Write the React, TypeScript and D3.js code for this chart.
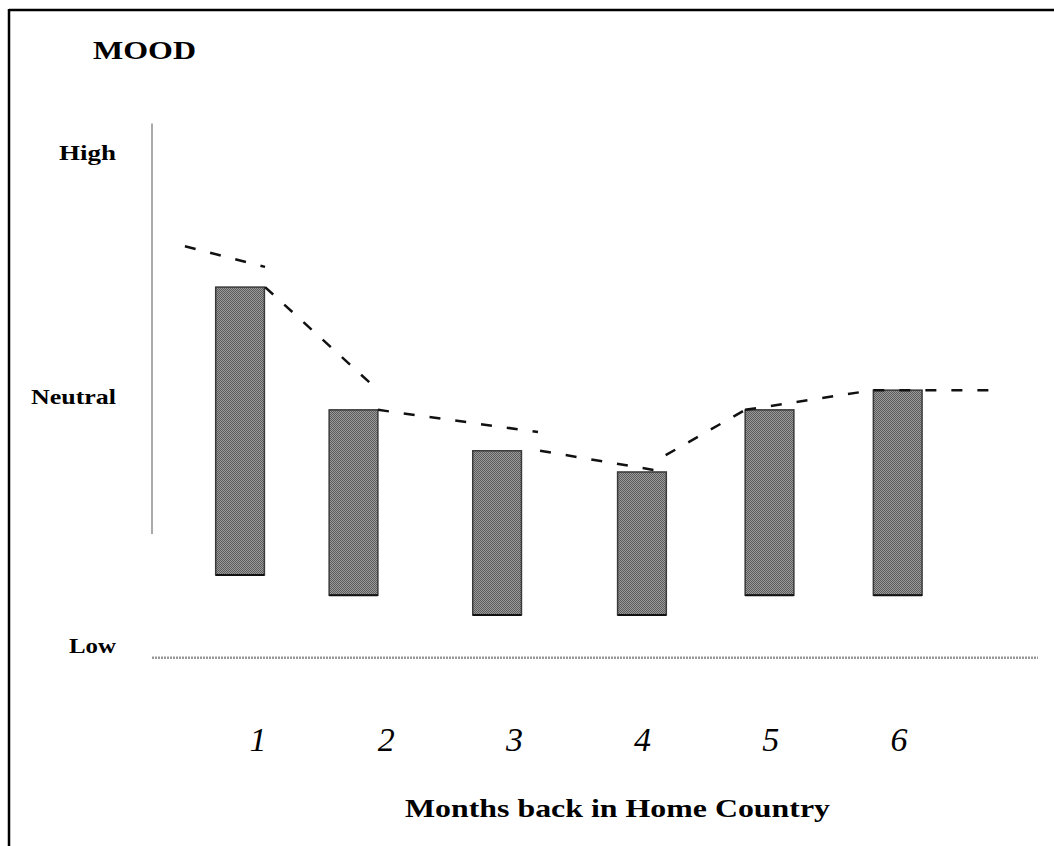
import React from "react";
import * as d3 from "d3";

// ---- data ----
const months = ["1", "2", "3", "4", "5", "6"];
const monthPos = [1, 2, 3, 4, 5, 6];
// bar centers (month units), bar low/high (mood units: Low=0, High=100)
const barCenter = [0.86, 1.745, 2.865, 3.995, 4.99, 5.99];
const barLow = [14.4, 10.3, 6.3, 6.3, 10.3, 10.3];
const barHigh = [72.8, 47.9, 39.6, 35.3, 47.9, 51.9];
// dashed trend segments: [m0, v0, m1, v1]
const trendSegments: [number, number, number, number][] = [
  [0.43, 81.1, 1.055, 76.9],
  [1.055, 72.8, 1.936, 51.9],
  [1.936, 47.9, 3.184, 43.4],
  [3.2, 39.6, 4.18, 35.3],
  [4.18, 38.7, 4.8, 47.9],
  [4.8, 47.9, 5.8, 51.9],
  [5.8, 51.9, 6.71, 51.9],
];
const moodLabels = ["High", "Neutral", "Low"];
const moodValues = [100, 50.6, 0];
const moodLabelWidths = [57, 85, 47];

const W = 1054;
const H = 846;

export default function App() {
  const x = d3.scaleLinear().domain([1, 6]).range([258, 899]);
  const y = d3.scaleLinear().domain([0, 100]).range([646, 153]);
  const barW = x(1.38) - x(1);
  const line = d3.line<[number, number]>().x((d) => x(d[0])).y((d) => y(d[1]));
  const serif = "'Liberation Serif', 'Times New Roman', serif";

  return (
    <svg
      width={W}
      height={H}
      style={{ position: "absolute", left: 0, top: 0, background: "#fff" }}
      fontFamily={serif}
    >
      <defs>
        <pattern id="chk" width="2" height="2" patternUnits="userSpaceOnUse">
          <rect width="2" height="2" fill="#9a9a9a" />
          <rect width="1" height="1" fill="#5c5c5c" />
          <rect x="1" y="1" width="1" height="1" fill="#5c5c5c" />
        </pattern>
      </defs>
      <rect x={0} y={0} width={W} height={H} fill="#fff" />
      {/* frame */}
      <line x1={9} y1={10} x2={W} y2={10} stroke="#000" strokeWidth={2.5} />
      <line x1={9} y1={9} x2={9} y2={H} stroke="#000" strokeWidth={2.5} />

      {/* title */}
      <text x={93} y={59} fontSize={26} fontWeight="bold" textLength={103} lengthAdjust="spacingAndGlyphs">
        MOOD
      </text>

      {/* vertical axis */}
      <line x1={152} y1={y(106)} x2={152} y2={y(22.7)} stroke="#aaa" strokeWidth={2} />
      {/* baseline */}
      <line
        x1={152}
        x2={1038}
        y1={y(-2.4)}
        y2={y(-2.4)}
        stroke="#999"
        strokeWidth={2.5}
        strokeDasharray="2 1"
      />

      {moodLabels.map((t, i) => (
        <text
          key={t}
          x={116 - moodLabelWidths[i]}
          y={y(moodValues[i]) + 7}
          fontSize={21}
          fontWeight="bold"
          textLength={moodLabelWidths[i]}
          lengthAdjust="spacingAndGlyphs"
        >
          {t}
        </text>
      ))}

      {/* bars */}
      {barCenter.map((c, i) => (
        <g key={i}>
          <rect
            x={x(c) - barW / 2}
            y={y(barHigh[i])}
            width={barW}
            height={y(barLow[i]) - y(barHigh[i])}
            fill="url(#chk)"
            stroke="#3a3a3a"
            strokeWidth={1.5}
          />
          <line
            x1={x(c) - barW / 2}
            x2={x(c) + barW / 2}
            y1={y(barLow[i])}
            y2={y(barLow[i])}
            stroke="#111"
            strokeWidth={2}
          />
        </g>
      ))}

      {/* dashed trend */}
      {trendSegments.map((s, i) => (
        <path
          key={i}
          d={line([
            [s[0], s[1]],
            [s[2], s[3]],
          ]) as string}
          fill="none"
          stroke="#111"
          strokeWidth={2.5}
          strokeDasharray="11 15"
        />
      ))}

      {/* x labels */}
      {months.map((m, i) => (
        <text
          key={m}
          x={x(monthPos[i])}
          y={751}
          fontSize={34}
          fontStyle="italic"
          textAnchor="middle"
        >
          {m}
        </text>
      ))}

      <text x={405} y={817} fontSize={25} fontWeight="bold" textLength={425} lengthAdjust="spacingAndGlyphs">
        Months back in Home Country
      </text>
    </svg>
  );
}
